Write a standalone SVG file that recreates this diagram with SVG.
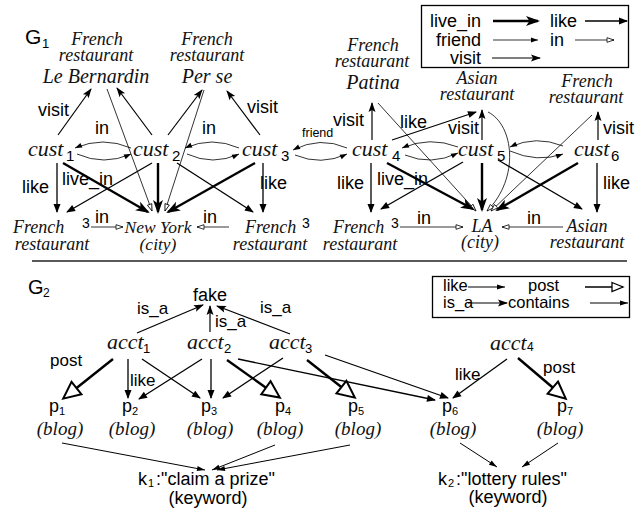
<svg xmlns="http://www.w3.org/2000/svg" width="644" height="510" viewBox="0 0 644 510">
<defs>
<style>
.n{font-family:"Liberation Serif","Times New Roman",serif;font-style:italic;fill:#111}
.s{font-family:"Liberation Sans",Arial,sans-serif;fill:#000}
.lab{font-family:"Liberation Sans",Arial,sans-serif;font-size:18px;fill:#000}
.lab2{font-family:"Liberation Sans",Arial,sans-serif;font-size:17px;fill:#000}
.e{fill:none;stroke:#000}
.like{stroke-width:1.3;marker-end:url(#hLike)}
.live{stroke-width:2.4;marker-end:url(#hLive)}
.visit{stroke-width:1.2;marker-end:url(#hVisit)}
.fr{stroke-width:0.8;marker-end:url(#hFriend)}
.in{stroke-width:0.8;marker-end:url(#hIn)}
.post{stroke-width:2.4;marker-end:url(#hPost)}
.isa{stroke-width:1.2;marker-end:url(#hIsa)}
.cont{stroke-width:1;marker-end:url(#hCont)}
</style>
<marker id="hLike" markerUnits="userSpaceOnUse" markerWidth="10" markerHeight="8" refX="8" refY="4" orient="auto" overflow="visible"><path d="M0,0.5 L9,4 L0,7.5 z" fill="#000"/></marker>
<marker id="hLive" markerUnits="userSpaceOnUse" markerWidth="15" markerHeight="11" refX="12" refY="5.5" orient="auto" overflow="visible"><path d="M0,0.5 L14,5.5 L0,10.5 L3.5,5.5 z" fill="#000"/></marker>
<marker id="hVisit" markerUnits="userSpaceOnUse" markerWidth="10" markerHeight="8" refX="9" refY="4" orient="auto" overflow="visible"><path d="M0,0.5 L10,4 L0,7.5 L2,4 z" fill="#000"/></marker>
<marker id="hFriend" markerUnits="userSpaceOnUse" markerWidth="7" markerHeight="6" refX="7" refY="3" orient="auto" overflow="visible"><path d="M0,0.5 L7,3 L0,5.5 z" fill="#000"/></marker>
<marker id="hIn" markerUnits="userSpaceOnUse" markerWidth="8" markerHeight="6" refX="7.5" refY="3" orient="auto" overflow="visible"><path d="M0.5,0.7 L7.5,3 L0.5,5.3 z" fill="#fff" stroke="#000" stroke-width="0.8"/></marker>
<marker id="hPost" markerUnits="userSpaceOnUse" markerWidth="19" markerHeight="18" refX="17" refY="9" orient="auto" overflow="visible"><path d="M1,1 L18,9 L1,17 z" fill="#fff" stroke="#000" stroke-width="2"/></marker>
<marker id="hPostL" markerUnits="userSpaceOnUse" markerWidth="13" markerHeight="11" refX="12" refY="5.5" orient="auto" overflow="visible"><path d="M1,1 L12,5.5 L1,10 z" fill="#fff" stroke="#000" stroke-width="1.3"/></marker>
<marker id="hIsa" markerUnits="userSpaceOnUse" markerWidth="10" markerHeight="8" refX="9" refY="4" orient="auto" overflow="visible"><path d="M0,0.5 L10,4 L0,7.5 L2,4 z" fill="#000"/></marker>
<marker id="hCont" markerUnits="userSpaceOnUse" markerWidth="9" markerHeight="6" refX="8" refY="3" orient="auto" overflow="visible"><path d="M0,0.5 L8,3 L0,5.5 z" fill="#000"/></marker>
</defs>
<rect width="644" height="510" fill="#fff"/>

<!-- G1 title -->
<g id="g1-title"><text class="s" x="25" y="44" font-size="21">G</text><text class="s" x="42" y="48" font-size="13">1</text></g>

<!-- Legend 1 -->
<g id="legend1">
<rect x="421.5" y="5.5" width="207" height="62" fill="none" stroke="#000" stroke-width="1.3"/>
<text class="lab" x="481" y="27" text-anchor="end">live_in</text>
<text class="lab" x="481" y="46" text-anchor="end">friend</text>
<text class="lab" x="481" y="64" text-anchor="end">visit</text>
<text class="lab" x="550" y="27">like</text>
<text class="lab" x="550" y="46">in</text>
<path class="e live" d="M493,21 L538,21"/>
<path class="e fr" d="M493,40 L538,40"/>
<path class="e visit" d="M492,58 L540,58"/>
<path class="e like" d="M585,21 L627,21"/>
<path class="e in" d="M575,40 L614,40"/>
</g>

<!-- G1 nodes -->
<g id="leBernardin"><text class="n" x="97" y="45" font-size="18" text-anchor="middle">French</text><text class="n" x="96" y="61" font-size="18" text-anchor="middle">restaurant</text><text class="n" x="96" y="83" font-size="20" text-anchor="middle">Le Bernardin</text></g>
<g id="perSe"><text class="n" x="207" y="45" font-size="18" text-anchor="middle">French</text><text class="n" x="207" y="61" font-size="18" text-anchor="middle">restaurant</text><text class="n" x="207" y="83" font-size="20" text-anchor="middle">Per se</text></g>
<g id="patina"><text class="n" x="373" y="51" font-size="18" text-anchor="middle">French</text><text class="n" x="372" y="67" font-size="18" text-anchor="middle">restaurant</text><text class="n" x="373" y="89" font-size="20" text-anchor="middle">Patina</text></g>
<g id="asianTop"><text class="n" x="477" y="84" font-size="18" text-anchor="middle">Asian</text><text class="n" x="477" y="100" font-size="18" text-anchor="middle">restaurant</text></g>
<g id="frenchTopR"><text class="n" x="587" y="87" font-size="18" text-anchor="middle">French</text><text class="n" x="586" y="103" font-size="18" text-anchor="middle">restaurant</text></g>

<g id="cust1"><text class="n" x="28" y="156" font-size="22">cust</text><text class="s" x="66" y="161" font-size="15">1</text></g>
<g id="cust2"><text class="n" x="133" y="156" font-size="22">cust</text><text class="s" x="172" y="161" font-size="15">2</text></g>
<g id="cust3"><text class="n" x="242" y="156" font-size="22">cust</text><text class="s" x="281" y="161" font-size="15">3</text></g>
<g id="cust4"><text class="n" x="352" y="156" font-size="22">cust</text><text class="s" x="392" y="161" font-size="15">4</text></g>
<g id="cust5"><text class="n" x="458" y="156" font-size="22">cust</text><text class="s" x="497" y="161" font-size="15">5</text></g>
<g id="cust6"><text class="n" x="574" y="156" font-size="22">cust</text><text class="s" x="611" y="161" font-size="15">6</text></g>

<g id="french1"><text class="n" x="13" y="233" font-size="18">French</text><text class="s" x="82" y="228" font-size="14">3</text><text class="n" x="52" y="250" font-size="18" text-anchor="middle">restaurant</text></g>
<g id="newYork"><text class="n" x="158" y="233" font-size="17.5" text-anchor="middle">New York</text><text class="n" x="158" y="250" font-size="17.5" text-anchor="middle">(city)</text></g>
<g id="french2"><text class="n" x="245" y="233" font-size="18">French</text><text class="s" x="302" y="228" font-size="14">3</text><text class="n" x="270" y="250" font-size="18" text-anchor="middle">restaurant</text></g>
<g id="french3"><text class="n" x="333" y="233" font-size="18">French</text><text class="s" x="391" y="228" font-size="14">3</text><text class="n" x="360" y="250" font-size="18" text-anchor="middle">restaurant</text></g>
<g id="la"><text class="n" x="482" y="232" font-size="18" text-anchor="middle">LA</text><text class="n" x="480" y="248" font-size="18" text-anchor="middle">(city)</text></g>
<g id="asianBot"><text class="n" x="587" y="232" font-size="18" text-anchor="middle">Asian</text><text class="n" x="587" y="248" font-size="18" text-anchor="middle">restaurant</text></g>

<!-- G1 connectors -->
<g id="g1-edges">
<path class="e visit" d="M58,135 L91,89"/>
<path class="e visit" d="M152,135 L117,88"/>
<path class="e visit" d="M168,135 L202,90"/>
<path class="e visit" d="M260,135 L227,91"/>
<path class="e visit" d="M372,140 L372,103"/>
<path class="e visit" d="M482,140 L482,110"/>
<path class="e visit" d="M598,140 L598,112"/>

<path class="e in" d="M107,89 L152,211"/>
<path class="e in" d="M204,90 L165,211"/>
<path class="e in" d="M378,103 L476,211"/>
<path class="e in" d="M488,112 C514,125 520,178 487,211"/>
<path class="e in" d="M592,115 L491,211"/>
<path class="e in" d="M91,227 L123,227"/>
<path class="e in" d="M229,227 L197,227"/>
<path class="e in" d="M400,227 L463,227"/>
<path class="e in" d="M563,227 L502,227"/>

<path class="e like" d="M57,163 L57,212"/>
<path class="e like" d="M152,163 L67,212"/>
<path class="e like" d="M177,163 L253,212"/>
<path class="e like" d="M263,163 L263,212"/>
<path class="e like" d="M371,163 L371,212"/>
<path class="e like" d="M392,140 L476,112"/>
<path class="e like" d="M463,162 L381,209"/>
<path class="e like" d="M498,160 L582,209"/>
<path class="e like" d="M597,163 L597,212"/>

<path class="e live" d="M63,163 L148,212"/>
<path class="e live" d="M158,163 L158,212"/>
<path class="e live" d="M255,163 L168,212"/>
<path class="e live" d="M387,163 L473,209"/>
<path class="e live" d="M482,163 L482,210"/>
<path class="e live" d="M578,163 L497,210"/>

<path class="e fr" d="M131,148 Q103,136 75,148"/>
<path class="e fr" d="M77,154 Q104,166 131,154"/>
<path class="e fr" d="M239,148 Q212,136 185,148"/>
<path class="e fr" d="M187,154 Q213,166 239,154"/>
<path class="e fr" d="M347,148 Q320,136 293,150"/>
<path class="e fr" d="M295,155 Q321,166 347,154"/>
<path class="e fr" d="M458,147 Q430,136 402,148"/>
<path class="e fr" d="M405,155 Q431,166 458,153"/>
<path class="e fr" d="M563,146 Q536,135 510,147"/>
<path class="e fr" d="M510,151 Q537,163 563,154"/>

<text class="lab" x="38" y="116">visit</text>
<text class="lab" x="95" y="134">in</text>
<text class="lab" x="202" y="134">in</text>
<text class="lab" x="247" y="113">visit</text>
<text class="s" x="302" y="137" font-size="12.5">friend</text>
<text class="lab" x="333" y="126">visit</text>
<text class="lab" x="400" y="128">like</text>
<text class="lab" x="448" y="134">visit</text>
<text class="lab" x="603" y="134">visit</text>
<text class="lab" x="22" y="193">like</text>
<text class="lab" x="62" y="185">live_in</text>
<text class="lab" x="260" y="189">like</text>
<text class="lab" x="337" y="189">like</text>
<text class="lab" x="377" y="185">live_in</text>
<text class="lab" x="603" y="189">like</text>
<text class="lab" x="95" y="223">in</text>
<text class="lab" x="203" y="223">in</text>
<text class="lab" x="417" y="224">in</text>
<text class="lab" x="527" y="224">in</text>
</g>

<!-- separator -->
<line x1="32" y1="261" x2="627" y2="261" stroke="#222" stroke-width="1.3"/>

<!-- G2 title -->
<g id="g2-title"><text class="s" x="28" y="294" font-size="20">G</text><text class="s" x="43" y="297" font-size="12">2</text></g>

<!-- Legend 2 -->
<g id="legend2">
<rect x="432.5" y="276.5" width="197" height="41" fill="none" stroke="#000" stroke-width="1.3"/>
<text class="s" x="443" y="291" font-size="16.5">like</text>
<text class="s" x="443" y="308" font-size="16.5">is_a</text>
<text class="s" x="528" y="291" font-size="16.5">post</text>
<text class="s" x="508" y="308" font-size="16.5">contains</text>
<path class="e" stroke-width="1.2" marker-end="url(#hCont)" d="M468,287 L505,287"/>
<path class="e" stroke-width="1.2" marker-end="url(#hIsa)" d="M468,303 L507,303"/>
<path class="e" stroke-width="1.3" marker-end="url(#hPostL)" d="M585,287 L623,287"/>
<path class="e" stroke-width="1.2" marker-end="url(#hCont)" d="M590,303 L628,303"/>
</g>

<!-- G2 nodes -->
<g id="fake"><text class="s" x="210" y="301" font-size="18" text-anchor="middle">fake</text></g>
<g id="acct1"><text class="n" x="107" y="349" font-size="22">acct</text><text class="s" x="143" y="353" font-size="13">1</text></g>
<g id="acct2"><text class="n" x="187" y="349" font-size="22">acct</text><text class="s" x="224" y="353" font-size="13">2</text></g>
<g id="acct3"><text class="n" x="269" y="349" font-size="22">acct</text><text class="s" x="305" y="353" font-size="13">3</text></g>
<g id="acct4"><text class="n" x="490" y="350" font-size="22">acct</text><text class="s" x="527" y="351" font-size="12">4</text></g>

<g id="p1"><text class="s" x="49" y="412" font-size="18">p</text><text class="s" x="59" y="415" font-size="11">1</text><text class="n" x="60" y="435" font-size="19" text-anchor="middle">(blog)</text></g>
<g id="p2"><text class="s" x="122" y="412" font-size="18">p</text><text class="s" x="132" y="415" font-size="11">2</text><text class="n" x="132" y="435" font-size="19" text-anchor="middle">(blog)</text></g>
<g id="p3"><text class="s" x="201" y="412" font-size="18">p</text><text class="s" x="211" y="415" font-size="11">3</text><text class="n" x="210" y="435" font-size="19" text-anchor="middle">(blog)</text></g>
<g id="p4"><text class="s" x="275" y="412" font-size="18">p</text><text class="s" x="285" y="415" font-size="11">4</text><text class="n" x="280" y="435" font-size="19" text-anchor="middle">(blog)</text></g>
<g id="p5"><text class="s" x="348" y="412" font-size="18">p</text><text class="s" x="358" y="415" font-size="11">5</text><text class="n" x="358" y="435" font-size="19" text-anchor="middle">(blog)</text></g>
<g id="p6"><text class="s" x="442" y="412" font-size="18">p</text><text class="s" x="452" y="415" font-size="11">6</text><text class="n" x="453" y="435" font-size="19" text-anchor="middle">(blog)</text></g>
<g id="p7"><text class="s" x="557" y="412" font-size="18">p</text><text class="s" x="567" y="415" font-size="11">7</text><text class="n" x="560" y="435" font-size="19" text-anchor="middle">(blog)</text></g>

<g id="k1"><text class="s" x="138" y="485" font-size="18">k</text><text class="s" x="148" y="487" font-size="11">1</text><text class="s" x="156" y="485" font-size="18">:"claim a prize"</text><text class="s" x="208" y="504" font-size="18" text-anchor="middle">(keyword)</text></g>
<g id="k2"><text class="s" x="438" y="485" font-size="18">k</text><text class="s" x="448" y="487" font-size="11">2</text><text class="s" x="456" y="485" font-size="18">:"lottery rules"</text><text class="s" x="508" y="503" font-size="18" text-anchor="middle">(keyword)</text></g>

<!-- G2 connectors -->
<g id="g2-edges">
<path class="e isa" d="M137,333 L203,305"/>
<path class="e isa" d="M210,332 L210,306"/>
<path class="e isa" d="M290,334 L217,306"/>

<path class="e post" d="M113,359 L64,398"/>
<path class="e like" d="M128,359 L128,398"/>
<path class="e like" d="M142,359 L200,398"/>
<path class="e like" d="M202,359 L139,399"/>
<path class="e like" d="M211,359 L211,398"/>
<path class="e post" d="M227,360 L279,397"/>
<path class="e like" d="M238,359 L435,400"/>
<path class="e like" d="M283,358 L223,398"/>
<path class="e post" d="M307,360 L354,397"/>
<path class="e like" d="M325,355 L448,398"/>
<path class="e like" d="M507,359 L453,398"/>
<path class="e post" d="M518,358 L565,398"/>

<path class="e cont" d="M62,443 L205,470"/>
<path class="e cont" d="M275,445 L212,470"/>
<path class="e cont" d="M350,445 L217,470"/>
<path class="e cont" d="M460,443 L497,467"/>
<path class="e cont" d="M558,443 L522,467"/>

<text class="lab2" x="137" y="314">is_a</text>
<text class="lab2" x="215" y="327">is_a</text>
<text class="lab2" x="260" y="313">is_a</text>
<text class="lab2" x="50" y="366">post</text>
<text class="lab2" x="130" y="386">like</text>
<text class="lab2" x="455" y="380">like</text>
<text class="lab2" x="543" y="373">post</text>
</g>
</svg>
